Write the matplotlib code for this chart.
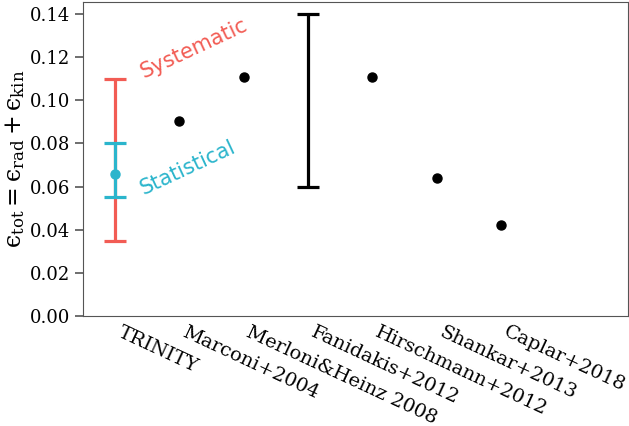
import matplotlib
matplotlib.use("Agg")
import matplotlib.pyplot as plt

studies = ["TRINITY", "Marconi+2004", "Merloni&Heinz 2008", "Fanidakis+2012",
           "Hirschmann+2012", "Shankar+2013", "Caplar+2018"]

trinity_val = 0.066
trinity_stat = (0.055, 0.080)
trinity_sys = (0.035, 0.110)

point_idx = [1, 2, 4, 5, 6]
point_vals = [0.0905, 0.111, 0.111, 0.064, 0.042]

range_idx = 3
range_lo, range_hi = 0.06, 0.14

RED = "#F25C54"
CYAN = "#2BB5CC"

plt.rcParams["font.family"] = "DejaVu Serif"
plt.rcParams["mathtext.fontset"] = "dejavuserif"

fig, ax = plt.subplots(figsize=(6.29, 4.26), dpi=100)
fig.subplots_adjust(left=0.132, right=0.999, top=0.995, bottom=0.258)

ax.errorbar([0], [trinity_val],
            yerr=[[trinity_val - trinity_sys[0]], [trinity_sys[1] - trinity_val]],
            fmt="none", ecolor=RED, elinewidth=2.3, capsize=8, capthick=2.3)
ax.errorbar([0], [trinity_val],
            yerr=[[trinity_val - trinity_stat[0]], [trinity_stat[1] - trinity_val]],
            fmt="o", color=CYAN, ms=6.5, elinewidth=2.3, capsize=8, capthick=2.3)

mid = (range_lo + range_hi) / 2
ax.errorbar([range_idx], [mid], yerr=[[mid - range_lo], [range_hi - mid]],
            fmt="none", ecolor="black", elinewidth=2.3, capsize=8, capthick=2.3)

ax.plot(point_idx, point_vals, "o", color="black", ms=6.5, ls="none")

ax.text(0.34, 0.124, "Systematic", color=RED, fontsize=15, rotation=25,
        ha="left", va="center", family="DejaVu Sans")
ax.text(0.34, 0.0686, "Statistical", color=CYAN, fontsize=15, rotation=25,
        ha="left", va="center", family="DejaVu Sans")

ax.set_xlim(-0.5, 7.98)
ax.set_ylim(0, 0.1455)
ax.set_yticks([0, 0.02, 0.04, 0.06, 0.08, 0.10, 0.12, 0.14])
ax.set_yticklabels([f"{v:.2f}" for v in ax.get_yticks()], fontsize=13)
ax.set_xticks(range(len(studies)))
ax.set_xticklabels(studies, rotation=-25, ha="left", fontsize=14)
ax.tick_params(axis="x", length=0, pad=5)
ax.tick_params(axis="y", length=6, width=1.2, color="#555555", direction="out")
for s in ax.spines.values():
    s.set_color("#555555")
ax.set_ylabel(r"$\mathrm{ϵ}_{\rm tot} = \mathrm{ϵ}_{\rm rad} + \mathrm{ϵ}_{\rm kin}$",
              fontsize=17, labelpad=2)

fig.savefig("out.png", dpi=100)
